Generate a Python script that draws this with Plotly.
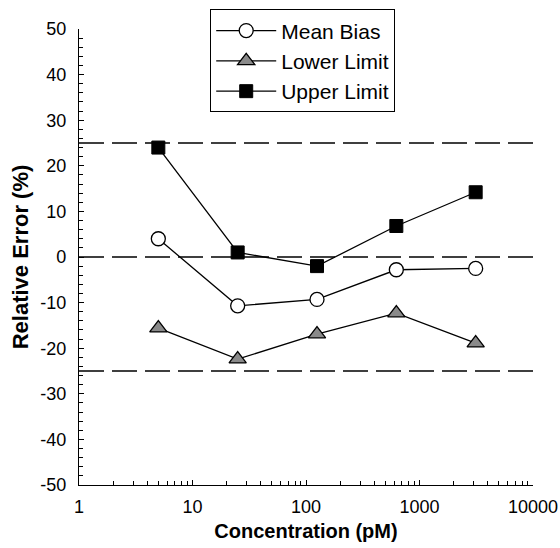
import plotly.graph_objects as go

concentration = [5, 25, 125, 625, 3125]
mean_bias = [4.0, -10.7, -9.3, -2.8, -2.5]
lower_limit = [-15.6, -22.4, -16.9, -12.3, -18.9]
upper_limit = [24.0, 1.0, -2.0, 6.8, 14.2]
reference_lines = [25, 0, -25]
x_range = [1, 10000]
y_range = [-50, 50]
x_ticks = [1, 10, 100, 1000, 10000]
y_ticks = [50, 40, 30, 20, 10, 0, -10, -20, -30, -40, -50]

FONT = "Liberation Sans, Arial, Helvetica, sans-serif"

fig = go.Figure()

for yv in reference_lines:
    fig.add_trace(go.Scatter(
        x=x_range, y=[yv, yv], mode="lines",
        line=dict(color="black", width=1.5, dash="25px,8px"),
        showlegend=False, hoverinfo="skip"))

fig.add_trace(go.Scatter(
    x=concentration, y=mean_bias, mode="lines+markers", name="Mean Bias",
    line=dict(color="black", width=1.3),
    marker=dict(symbol="circle", size=14, color="white",
                line=dict(color="black", width=1.3))))
fig.add_trace(go.Scatter(
    x=concentration, y=lower_limit, mode="lines+markers", name="Lower Limit",
    line=dict(color="black", width=1.3),
    marker=dict(symbol="triangle-up", size=15, color="#8a8a8a",
                line=dict(color="black", width=1.3))))
fig.add_trace(go.Scatter(
    x=concentration, y=upper_limit, mode="lines+markers", name="Upper Limit",
    line=dict(color="black", width=1.3),
    marker=dict(symbol="square", size=13, color="black",
                line=dict(color="black", width=1))))

fig.update_layout(
    width=560, height=548,
    margin=dict(l=79, r=27, t=29, b=63, autoexpand=False),
    paper_bgcolor="white", plot_bgcolor="white",
    font=dict(family=FONT, color="black", size=18),
    legend=dict(x=0.289, y=0.93, xanchor="left", yanchor="middle",
                bordercolor="black", borderwidth=1, bgcolor="white",
                font=dict(size=21, family=FONT), itemwidth=60,
                tracegroupgap=0),
    xaxis=dict(type="log", range=[0, 4], showgrid=False, zeroline=False,
               showline=True, linecolor="black", linewidth=1.3, automargin=False,
               ticks="inside", ticklen=5, tickcolor="black", tickwidth=1.2,
               tickvals=x_ticks, ticktext=[str(v) for v in x_ticks],
               tickfont=dict(size=18), ticklabelstandoff=5,
               minor=dict(ticks="inside", ticklen=4, tickcolor="black",
                          tickwidth=1, showgrid=False,
                          tickvals=[m * 10 ** d for d in range(4) for m in range(2, 10)]),
               title=dict(text="<b>Concentration (pM)</b>", font=dict(size=20), standoff=8)),
    yaxis=dict(range=y_range, showgrid=False, zeroline=False,
               showline=True, linecolor="black", linewidth=1.3, automargin=False,
               ticks="inside", ticklen=5, tickcolor="black", tickwidth=1.2,
               tickvals=y_ticks, ticktext=[str(v) for v in y_ticks],
               tickfont=dict(size=18), ticklabelstandoff=8,
               minor=dict(ticks="inside", ticklen=4, tickcolor="black",
                          tickwidth=1, dtick=2, showgrid=False),
               title=dict(text="<b>Relative Error (%)</b>", font=dict(size=22), standoff=5)),
)

# remove the default 8px page margin so the 560x548 figure fills the window exactly
fig.write_html("out.html", config={"displayModeBar": False},
               post_script="document.body.style.margin='0';")
